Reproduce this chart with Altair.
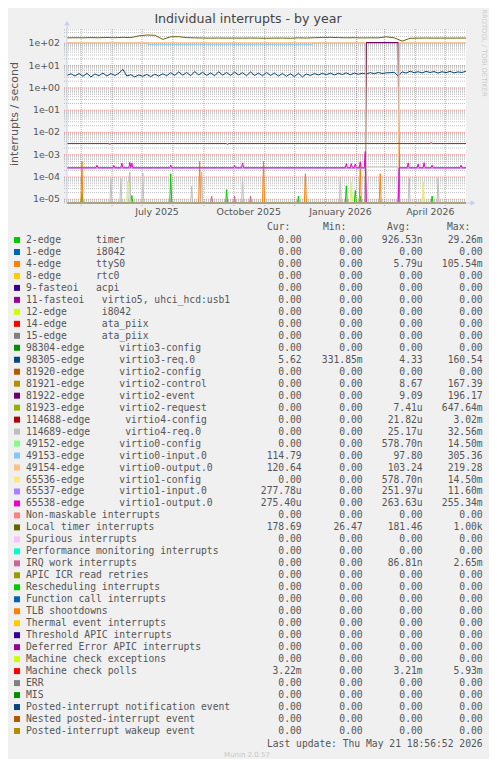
import altair as alt
import pandas as pd
from datetime import datetime, timedelta

# ---------------------------------------------------------------- data
END = datetime(2026, 5, 21, 18, 56, 52)
SPAN_DAYS = 400
START = END - timedelta(days=SPAN_DAYS)

TITLE = "Individual interrupts - by year"
Y_TITLE = "interrupts / second"
WATERMARK = "RRDTOOL / TOBI OETIKER"
LAST_UPDATE = "Last update: Thu May 21 18:56:52 2026"
VERSION = "Munin 2.0.57"
HEADERS = ["Cur:", "Min:", "Avg:", "Max:"]

LEGEND = [
    "2-edge      timer",
    "1-edge      i8042",
    "4-edge      ttyS0",
    "8-edge      rtc0",
    "9-fasteoi   acpi",
    "11-fasteoi   virtio5, uhci_hcd:usb1",
    "12-edge      i8042",
    "14-edge      ata_piix",
    "15-edge      ata_piix",
    "98304-edge      virtio3-config",
    "98305-edge      virtio3-req.0",
    "81920-edge      virtio2-config",
    "81921-edge      virtio2-control",
    "81922-edge      virtio2-event",
    "81923-edge      virtio2-request",
    "114688-edge      virtio4-config",
    "114689-edge      virtio4-req.0",
    "49152-edge      virtio0-config",
    "49153-edge      virtio0-input.0",
    "49154-edge      virtio0-output.0",
    "65536-edge      virtio1-config",
    "65537-edge      virtio1-input.0",
    "65538-edge      virtio1-output.0",
    "Non-maskable interrupts",
    "Local timer interrupts",
    "Spurious interrupts",
    "Performance monitoring interrupts",
    "IRQ work interrupts",
    "APIC ICR read retries",
    "Rescheduling interrupts",
    "Function call interrupts",
    "TLB shootdowns",
    "Thermal event interrupts",
    "Threshold APIC interrupts",
    "Deferred Error APIC interrupts",
    "Machine check exceptions",
    "Machine check polls",
    "ERR",
    "MIS",
    "Posted-interrupt notification event",
    "Nested posted-interrupt event",
    "Posted-interrupt wakeup event",
]

COLORS = [
    "#00CC00", "#0066B3", "#FF8000", "#FFCC00", "#330099", "#990099", "#CCFF00",
    "#FF0000", "#808080", "#008F00", "#00487D", "#B35A00", "#B38F00", "#6B006B",
    "#8FB300", "#B30000", "#BEBEBE", "#80FF80", "#80C9FF", "#FFC080", "#FFE680",
    "#AA80FF", "#EE00CC", "#FF8080", "#666600", "#FFBFFF", "#00FFCC", "#CC6699",
    "#999900", "#00CC00", "#0066B3", "#FF8000", "#FFCC00", "#330099", "#990099",
    "#CCFF00", "#FF0000", "#808080", "#008F00", "#00487D", "#B35A00", "#B38F00",
]

CUR = ["0.00", "0.00", "0.00", "0.00", "0.00", "0.00", "0.00", "0.00", "0.00", "0.00",
       "5.62", "0.00", "0.00", "0.00", "0.00", "0.00", "0.00", "0.00", "114.79", "120.64",
       "0.00", "277.78u", "275.40u", "0.00", "178.69", "0.00", "0.00", "0.00", "0.00", "0.00",
       "0.00", "0.00", "0.00", "0.00", "0.00", "0.00", "3.22m", "0.00", "0.00", "0.00",
       "0.00", "0.00"]
MIN = ["0.00", "0.00", "0.00", "0.00", "0.00", "0.00", "0.00", "0.00", "0.00", "0.00",
       "331.85m", "0.00", "0.00", "0.00", "0.00", "0.00", "0.00", "0.00", "0.00", "0.00",
       "0.00", "0.00", "0.00", "0.00", "26.47", "0.00", "0.00", "0.00", "0.00", "0.00",
       "0.00", "0.00", "0.00", "0.00", "0.00", "0.00", "0.00", "0.00", "0.00", "0.00",
       "0.00", "0.00"]
AVG = ["926.53n", "0.00", "5.79u", "0.00", "0.00", "0.00", "0.00", "0.00", "0.00", "0.00",
       "4.33", "0.00", "8.67", "9.09", "7.41u", "21.82u", "25.17u", "578.70n", "97.80", "103.24",
       "578.70n", "251.97u", "263.63u", "0.00", "181.46", "0.00", "0.00", "86.81n", "0.00", "0.00",
       "0.00", "0.00", "0.00", "0.00", "0.00", "0.00", "3.21m", "0.00", "0.00", "0.00",
       "0.00", "0.00"]
MAX = ["29.26m", "0.00", "105.54m", "0.00", "0.00", "0.00", "0.00", "0.00", "0.00", "0.00",
       "160.54", "0.00", "167.39", "196.17", "647.64m", "3.02m", "32.56m", "14.50m", "305.36", "219.28",
       "14.50m", "11.60m", "255.34m", "0.00", "1.00k", "0.00", "0.00", "2.65m", "0.00", "0.00",
       "0.00", "0.00", "0.00", "0.00", "0.00", "0.00", "5.93m", "0.00", "0.00", "0.00",
       "0.00", "0.00"]

# days counted from the left edge of the year graph
GAP_START, GAP_END = 300, 332

TIMER_DAYS = [15, 65, 104, 160, 232, 280, 289, 294, 366]
TIMER_VALS = [2.0e-5, 1.5e-5, 1.4e-4, 2.7e-5, 1.4e-5, 4.0e-5, 2.5e-5, 1.4e-5, 1.4e-5]

TTYS0_DAYS = [15, 133, 197, 239, 294, 314]
TTYS0_VALS = [5.0e-4, 5.0e-4, 5.0e-4, 1.4e-4, 5.0e-4, 1.4e-4]

VIRTIO4_REQ_DAYS = [44, 54, 63, 76, 125, 135, 176, 274, 343, 372]
VIRTIO4_REQ_VALS = [8.7e-5, 8.7e-5, 1.7e-4, 1.5e-4, 3.9e-5, 1.7e-4, 9.5e-5, 9.5e-5, 9.5e-5, 9.5e-5]
VIRTIO4_REQ_GAP = 2.8e-4

CONFIG_DAYS = [61, 62, 285, 357]
CONFIG_VALS = [6.5e-5, 5.5e-5, 6.0e-5, 6.0e-5]

IRQ_WORK_DAYS = [145, 168, 184]
IRQ_WORK_VALS = [1.4e-5, 1.4e-5, 1.4e-5]

VIRTIO1_OUT_BASE = 2.6e-4
VIRTIO1_OUT_DAYS = [30, 47, 55, 63, 65, 104, 168, 176, 280, 285, 289, 294, 299, 342, 352, 358, 366, 395]
VIRTIO1_OUT_VALS = [3.4e-4, 3.3e-4, 4.2e-4, 4.5e-4, 4.2e-4, 3.4e-4, 3.3e-4, 4.3e-4, 4.0e-4,
                    4.0e-4, 3.8e-4, 4.5e-4, 1.4e-3, 4.3e-4, 3.8e-4, 4.4e-4, 3.4e-4, 3.4e-4]
VIRTIO1_IN_BASE = 2.5e-4

MC_POLLS_BASE = 3.2e-3
MC_POLLS_DAYS = [43, 161, 365]
MC_POLLS_VALS = [2.9e-3, 2.9e-3, 3.5e-3]

VIRTIO0_IN_LEVEL_DAYS = [0, 81, 247]
VIRTIO0_IN_LEVELS = [103.0, 90.0, 103.0]
VIRTIO0_OUT_LEVEL = 106.0
VIRTIO2_CONTROL_GAP = 104.0
VIRTIO2_EVENT_GAP = 108.0

VIRTIO3_REQ_STEP = 4
VIRTIO3_REQ = [
    3.6, 4.3, 3.4, 4.4, 3.3, 4.5, 3.1, 4.2, 3.5, 4.6, 3.4, 4.4, 3.6, 4.5,
    6.8,
    3.4, 3.9, 3.1, 3.8, 3.3, 4.0, 3.2, 4.1, 3.4, 4.3, 3.5,
    4.8, 3.6, 5.2, 3.7, 4.9, 3.5, 5.4, 3.8, 5.0, 3.6, 4.7, 3.5, 5.3, 3.7, 4.9, 3.6, 5.1,
    3.8, 4.8, 3.5, 5.2, 3.6, 4.6, 3.5, 4.9,
    3.6, 4.6, 3.4, 4.4, 3.3, 4.3, 3.2, 4.5, 3.1, 4.2,
    3.6, 4.4, 3.8, 4.5, 3.9, 4.6, 3.8, 4.5, 4.0, 4.7, 3.9, 4.6, 4.1, 4.5,
    4.2, 4.8, 4.3, 4.9, 4.4, 4.7, 4.8, 5.0, 3.4, 5.2,
    4.6, 5.6, 4.8, 5.3, 4.7, 5.5, 4.9, 5.4, 4.6, 5.3, 4.8, 5.5, 4.7, 5.2, 4.9, 5.6,
]

LOCAL_TIMER_STEP = 8
LOCAL_TIMER = [
    175, 178, 176, 180, 177, 182, 178, 185, 180, 215, 235, 230, 150, 195, 198, 180, 175,
    172, 170, 172, 170, 171, 170, 172, 170, 168, 170, 171, 168, 175, 172, 178, 182, 185,
    180, 176, 178, 174, 176, 175, 195, 176, 125, 168, 170, 172, 170, 171, 170, 172, 171,
]

Y_DECADES = list(range(-5, 3))
X_LABEL_DATES = [datetime(2025, 7, 16), datetime(2025, 10, 16), datetime(2026, 1, 16), datetime(2026, 4, 16)]
X_LABELS = ["July 2025", "October 2025", "January 2026", "April 2026"]

# ---------------------------------------------------------------- layout
OFF = 8                       # page margin of the html page
PL, PR, PT, PB = 67, 466, 29, 203   # plot area in picture pixels
YMIN, YMAX = 10 ** -5.166, 10 ** 2.641
ROW_FIRST, ROW_LAST = 240, 731
MONO = "DejaVu Sans Mono"
SANS = "DejaVu Sans"
TXT = "#555555"

XS = alt.Scale(domain=[0, SPAN_DAYS], range=[PL - OFF, PR - OFF], nice=False, zero=False)
YS = alt.Scale(type="log", domain=[YMIN, YMAX], range=[PB - OFF, PT - OFF], nice=False, clamp=True)
LS = alt.Scale(domain=[0, len(LEGEND) - 1], range=[ROW_FIRST - OFF, ROW_LAST - OFF], nice=False, zero=False)


def days_of(dt):
    return (dt - START).total_seconds() / 86400.0


def build(levels=((0, 0.0),), spike_days=(), spike_vals=()):
    def level_at(d):
        lv = levels[0][1]
        for fd, l in levels:
            if d >= fd:
                lv = l
        return lv
    pts = {0: level_at(0), SPAN_DAYS: level_at(SPAN_DAYS)}
    for i in range(1, len(levels)):
        fd, l = levels[i]
        pts[fd - 1] = levels[i - 1][1]
        pts[fd] = l
    spikes = dict(zip(spike_days, spike_vals))
    pts.update(spikes)
    for d in spikes:
        for n in (d - 1, d + 1):
            if n not in pts:
                pts[n] = level_at(n)
    return sorted(pts.items())


gap = lambda base, inside: [(0, base), (GAP_START, inside), (GAP_END + 1, base)]

series = {i: [(0, 0.0), (SPAN_DAYS, 0.0)] for i in range(len(LEGEND))}
series[0] = build(spike_days=TIMER_DAYS, spike_vals=TIMER_VALS)
series[2] = build(spike_days=TTYS0_DAYS, spike_vals=TTYS0_VALS)
series[10] = [(i * VIRTIO3_REQ_STEP, v) for i, v in enumerate(VIRTIO3_REQ)]
series[12] = build(gap(0.0, VIRTIO2_CONTROL_GAP))
series[13] = build(gap(0.0, VIRTIO2_EVENT_GAP))
series[16] = build(gap(0.0, VIRTIO4_REQ_GAP), VIRTIO4_REQ_DAYS, VIRTIO4_REQ_VALS)
series[17] = build(spike_days=CONFIG_DAYS, spike_vals=CONFIG_VALS)
series[18] = build(list(zip(VIRTIO0_IN_LEVEL_DAYS, VIRTIO0_IN_LEVELS))
                   + [(GAP_START, 0.0), (GAP_END + 1, VIRTIO0_IN_LEVELS[-1])])
series[19] = build(gap(VIRTIO0_OUT_LEVEL, 0.0))
series[20] = build(spike_days=CONFIG_DAYS, spike_vals=CONFIG_VALS)
series[21] = build(gap(VIRTIO1_IN_BASE, 0.0))
series[22] = build(gap(VIRTIO1_OUT_BASE, 0.0), VIRTIO1_OUT_DAYS, VIRTIO1_OUT_VALS)
series[24] = [(i * LOCAL_TIMER_STEP, v) for i, v in enumerate(LOCAL_TIMER)]
series[27] = build(spike_days=IRQ_WORK_DAYS, spike_vals=IRQ_WORK_VALS)
series[36] = build(((0, MC_POLLS_BASE),), MC_POLLS_DAYS, MC_POLLS_VALS)

KEYS = [f"s{i:02d}" for i in range(len(LEGEND))]
rows = []
for i in range(len(LEGEND)):
    for d, v in series[i]:
        rows.append({"key": KEYS[i], "day": d, "v": v})
series_df = pd.DataFrame(rows)

NB = "\u00a0"
def cell(s):
    return s + NB if s[-1].isdigit() else s

legend_df = pd.DataFrame({
    "row": list(range(len(LEGEND))),
    "key": KEYS,
    "label": [s.replace(" ", NB) for s in LEGEND],
    "cur": [cell(s) for s in CUR],
    "min": [cell(s) for s in MIN],
    "avg": [cell(s) for s in AVG],
    "max": [cell(s) for s in MAX],
})

minor = [m * 10.0 ** n for n in range(-6, 3) for m in range(2, 10) if YMIN < m * 10.0 ** n < YMAX]
minor_df = pd.DataFrame({"v": minor})
major_df = pd.DataFrame({"v": [10.0 ** n for n in Y_DECADES],
                         "t": [f"1e{n:+03d}" for n in Y_DECADES]})
months = []
y, m = 2025, 5
while True:
    dt = datetime(y, m, 1)
    if dt > END:
        break
    months.append(days_of(dt))
    y, m = (y + 1, 1) if m == 12 else (y, m + 1)
month_df = pd.DataFrame({"d": months})
xlab_df = pd.DataFrame({"d": [days_of(d) for d in X_LABEL_DATES], "t": X_LABELS})
one = pd.DataFrame({"a": [0]})

X = lambda f: alt.X(f, scale=XS, axis=None)
Yv = lambda f: alt.Y(f, scale=YS, axis=None)
Yl = alt.Y("row:Q", scale=LS, axis=None)
V = lambda p: alt.value(p - OFF)

canvas = alt.Chart(one).mark_rect(color="#FFFFFF").encode(
    x=V(PL), x2=V(PR), y=V(PT), y2=V(PB))

minor_grid = alt.Chart(minor_df).mark_rule(color="#8C8C8C", opacity=0.55, strokeDash=[1, 1], strokeWidth=1).encode(
    y=Yv("v:Q"), x=V(PL - 3), x2=V(PR))
major_grid = alt.Chart(major_df).mark_rule(color="#F54F4F", opacity=0.6, strokeDash=[1, 1], strokeWidth=1).encode(
    y=Yv("v:Q"), x=V(PL - 3), x2=V(PR))
month_grid = alt.Chart(month_df).mark_rule(color="#F54F4F", opacity=0.6, strokeDash=[1, 1], strokeWidth=1).encode(
    x=X("d:Q"), y=V(PT), y2=V(PB + 3))

lines = alt.Chart(series_df).transform_calculate(pv="max(datum.v, 1e-9)").mark_line(
    strokeWidth=1, interpolate="linear").encode(
    x=X("day:Q"), y=Yv("pv:Q"),
    color=alt.Color("key:N", scale=alt.Scale(domain=KEYS, range=COLORS), legend=None),
    order=alt.Order("day:Q"))

AX = "#C8CEF0"
y_axis = alt.Chart(one).mark_rule(color=AX, strokeWidth=1).encode(x=V(PL), y=V(PB), y2=V(PT - 6))
x_axis = alt.Chart(one).mark_rule(color=AX, strokeWidth=1).encode(x=V(PL), x2=V(PR + 6), y=V(PB))
up_arrow = alt.Chart(one).mark_point(shape="triangle-up", filled=True, color=AX, size=30, opacity=1).encode(
    x=V(PL), y=V(PT - 6))
right_arrow = alt.Chart(one).mark_point(shape="triangle-right", filled=True, color=AX, size=30, opacity=1).encode(
    x=V(PR + 7), y=V(PB))

ytick_labels = alt.Chart(major_df).mark_text(align="right", baseline="middle", font=SANS, fontSize=9.4,
                                             color=TXT).encode(y=Yv("v:Q"), x=V(60), text="t:N")
xtick_labels = alt.Chart(xlab_df).mark_text(align="center", baseline="middle", font=SANS, fontSize=9.4,
                                            color=TXT).encode(x=X("d:Q"), y=V(212), text="t:N")

title = alt.Chart(pd.DataFrame({"t": [TITLE]})).mark_text(
    align="center", baseline="middle", font=SANS, fontSize=12.6, color="#444444").encode(
    x=V(248), y=V(19), text="t:N")
ytitle = alt.Chart(pd.DataFrame({"t": [Y_TITLE]})).mark_text(
    align="center", baseline="middle", font=SANS, fontSize=11, color=TXT, angle=270).encode(
    x=V(15), y=V(114), text="t:N")
watermark = alt.Chart(pd.DataFrame({"t": [WATERMARK]})).mark_text(
    align="center", baseline="middle", font=SANS, fontSize=6.8, color="#CCCCCC", angle=90).encode(
    x=V(484), y=V(53), text="t:N")

HEAD_X = [267, 323, 387, 447]
header_layers = [
    alt.Chart(pd.DataFrame({"t": [h]})).mark_text(align="left", baseline="middle", font=MONO, fontSize=9.7,
                                                  color=TXT).encode(x=V(hx), y=V(227), text="t:N")
    for h, hx in zip(HEADERS, HEAD_X)
]

squares = alt.Chart(legend_df).mark_square(size=36, opacity=1).encode(
    x=V(17), y=Yl,
    color=alt.Color("key:N", scale=alt.Scale(domain=KEYS, range=COLORS), legend=None))
names = alt.Chart(legend_df).mark_text(align="left", baseline="middle", font=MONO, fontSize=9.7,
                                       color=TXT).encode(x=V(26), y=Yl, text="label:N")
COL_RIGHT = {"cur": 301.7, "min": 362.7, "avg": 422.7, "max": 482.7}
value_layers = [
    alt.Chart(legend_df).mark_text(align="right", baseline="middle", font=MONO, fontSize=9.7,
                                   color=TXT).encode(x=V(xr), y=Yl, text=f"{col}:N")
    for col, xr in COL_RIGHT.items()
]
last_update = alt.Chart(pd.DataFrame({"t": [LAST_UPDATE.replace(" ", NB)]})).mark_text(
    align="right", baseline="middle", font=MONO, fontSize=9.7, color=TXT).encode(
    x=V(482.7), y=V(744), text="t:N")
version = alt.Chart(pd.DataFrame({"t": [VERSION]})).mark_text(
    align="center", baseline="middle", font=SANS, fontSize=7, color="#C8C8C8").encode(
    x=V(247), y=V(755), text="t:N")

chart = alt.layer(
    canvas, minor_grid, major_grid, month_grid, lines, y_axis, x_axis, up_arrow, right_arrow,
    ytick_labels, xtick_labels, title, ytitle, watermark, *header_layers,
    squares, names, *value_layers, last_update, version,
).resolve_scale(x="independent", y="independent", color="independent").properties(
    width=497 - 2 * OFF, height=767 - 2 * OFF,
    autosize=alt.AutoSizeParams(type="none"), padding=0, background="#F0F0F0",
).configure_view(strokeWidth=0)

chart.save("out.html", embed_options={"renderer": "svg", "actions": False})
